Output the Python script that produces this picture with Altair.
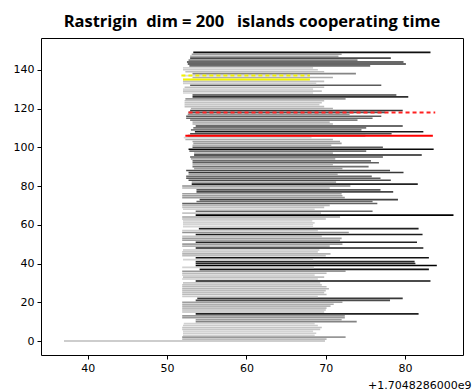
import altair as alt
import pandas as pd

# start / end time (offset from 1.7048286000e9) of each island row, bottom (row 0) to top
start = [
    37.0, 51.9, 51.9, 52.0, 52.0, 52.0, 51.9, 51.9, 52.0, 52.1,
    53.6, 53.6, 51.9, 51.9, 53.6, 51.9, 51.9, 51.9, 51.9, 51.9,
    51.9, 53.6, 53.8, 51.9, 51.9, 51.9, 51.9, 51.9, 51.9, 51.9,
    52.0, 53.6, 51.9, 52.0, 51.9, 51.9, 51.9, 54.1, 51.9, 53.6,
    53.6, 53.6, 52.0, 53.6, 51.9, 51.9, 51.9, 52.0, 53.6, 51.9,
    51.9, 53.6, 51.9, 51.9, 51.9, 53.6, 51.9, 51.9, 54.0, 52.0,
    52.0, 52.0, 52.0, 51.9, 51.9, 53.6, 51.9, 53.6, 52.0, 51.9,
    51.9, 51.9, 53.7, 54.1, 51.9, 51.9, 51.9, 53.7, 53.7, 51.9,
    51.9, 53.1, 53.1, 52.7, 52.4, 52.4, 52.7, 52.7, 52.4, 53.4,
    53.2, 53.2, 53.2, 53.2, 53.0, 52.9, 53.4, 53.4, 52.8, 52.7,
    53.2, 53.2, 53.3, 53.2, 52.3, 52.1, 52.6, 52.9, 53.5, 53.0,
    53.3, 53.6, 53.2, 53.2, 52.9, 52.4, 52.4, 52.6, 52.7, 52.9,
    53.0, 52.2, 52.2, 52.2, 52.2, 52.3, 53.2, 53.2, 52.0, 52.0,
    52.0, 52.2, 52.9, 52.0, 52.0, 52.0, 53.2, 52.0, 53.2, 52.3,
    52.0, 52.0, 52.8, 52.6, 52.5, 52.7, 52.9, 52.9, 53.1, 53.3,
]
end = [
    69.9, 70.1, 72.5, 68.6, 68.8, 68.4, 69.3, 69.5, 69.0, 68.6,
    73.9, 72.0, 72.4, 72.4, 81.7, 69.8, 70.0, 70.1, 70.6, 71.0,
    72.1, 78.1, 79.7, 69.0, 70.1, 69.8, 70.0, 70.4, 70.1, 69.5,
    69.3, 83.2, 69.0, 69.8, 68.6, 70.1, 72.5, 83.0, 68.5, 84.0,
    81.3, 81.2, 68.4, 83.0, 70.0, 70.6, 69.0, 69.2, 82.3, 70.5,
    72.1, 81.5, 71.8, 72.0, 69.5, 82.2, 72.9, 69.0, 81.7, 68.4,
    68.4, 68.6, 68.3, 70.0, 71.8, 86.1, 69.4, 75.9, 68.6, 69.8,
    70.5, 76.5, 75.9, 79.1, 72.4, 72.1, 72.0, 78.5, 76.9, 70.5,
    73.1, 81.6, 71.3, 78.2, 76.9, 75.8, 71.5, 79.8, 78.1, 72.1,
    75.4, 70.9, 76.7, 75.7, 71.2, 77.2, 82.1, 70.9, 75.1, 83.6,
    77.2, 70.7, 72.0, 71.8, 70.9, 68.2, 75.0, 78.3, 82.3, 74.5,
    75.1, 79.7, 70.9, 70.5, 74.0, 75.9, 77.0, 73.0, 77.5, 79.7,
    70.9, 69.8, 69.2, 69.5, 69.8, 72.5, 80.4, 78.9, 68.4, 69.5,
    68.4, 69.8, 77.0, 68.8, 69.8, 68.0, 70.9, 68.0, 73.8, 69.8,
    69.0, 68.4, 75.6, 80.1, 79.8, 74.0, 78.2, 71.6, 72.0, 83.2,
]

# highlighted rows
hl_row = [106, 118, 135, 137]
hl_start = [52.3, 52.7, 52.0, 51.8]
hl_end = [83.5, 83.8, 68.0, 68.0]
hl_kind = ["best", "best (dashed)", "worst", "worst (dashed)"]

df = pd.DataFrame({"row": list(range(len(start))), "start": start, "end": end})
hl = pd.DataFrame({"row": hl_row, "start": hl_start, "end": hl_end, "kind": hl_kind})

x_scale = alt.Scale(domain=[34.1, 87.3], nice=False, zero=False)
y_scale = alt.Scale(domain=[-7.2, 156.4], nice=False, zero=False)

x_axis = alt.Axis(
    values=[40, 50, 60, 70, 80], title="+1.7048286000e9",
    titleAnchor="end", titleAlign="right", titleX=430, titleY=35,
    titleFontWeight="normal", titleFontSize=11, titleFont="DejaVu Sans",
    titleColor="black", titleBaseline="bottom",
)
y_axis = alt.Axis(values=[0, 20, 40, 60, 80, 100, 120, 140], title=None)

rows = alt.Chart(df).mark_rule(strokeWidth=1.6).encode(
    x=alt.X("start:Q", scale=x_scale, axis=x_axis),
    x2="end:Q",
    y=alt.Y("row:Q", scale=y_scale, axis=y_axis),
    color=alt.Color("end:Q", scale=alt.Scale(domain=[68, 84], range=["#dadada", "#000000"], clamp=True), legend=None),
)

highlights = alt.Chart(hl).mark_rule(strokeWidth=2, opacity=1).encode(
    x=alt.X("start:Q", scale=x_scale),
    x2="end:Q",
    y=alt.Y("row:Q", scale=y_scale),
    color=alt.Color("kind:N", scale=alt.Scale(domain=hl_kind, range=["#ff0000", "#ff2020", "#f2f200", "#f2f200"]), legend=None),
    strokeDash=alt.StrokeDash("kind:N", scale=alt.Scale(domain=hl_kind, range=[[1, 0], [4, 3], [1, 0], [4, 3]]), legend=None),
)

chart = alt.layer(rows, highlights).resolve_scale(color="independent").properties(
    width=422, height=317,
    title=alt.Title("Rastrigin\u00a0 dim = 200\u00a0\u00a0 islands cooperating time",
                    fontSize=16.5, fontWeight="bold", font="Open Sans",
                    anchor="middle", offset=8, color="black"),
    autosize=alt.AutoSizeParams(type="none"),
    padding={"left": 41, "top": 38, "right": 10, "bottom": 36},
    background="white",
).configure_view(stroke="black", strokeWidth=1).configure_axis(
    domain=False, grid=False, ticks=True, tickColor="black", tickSize=4, tickWidth=1,
    labelFont="DejaVu Sans", labelFontSize=11, labelColor="black", labelPadding=3,
)

chart.save("out.html", embed_options={"renderer": "svg", "actions": False})
